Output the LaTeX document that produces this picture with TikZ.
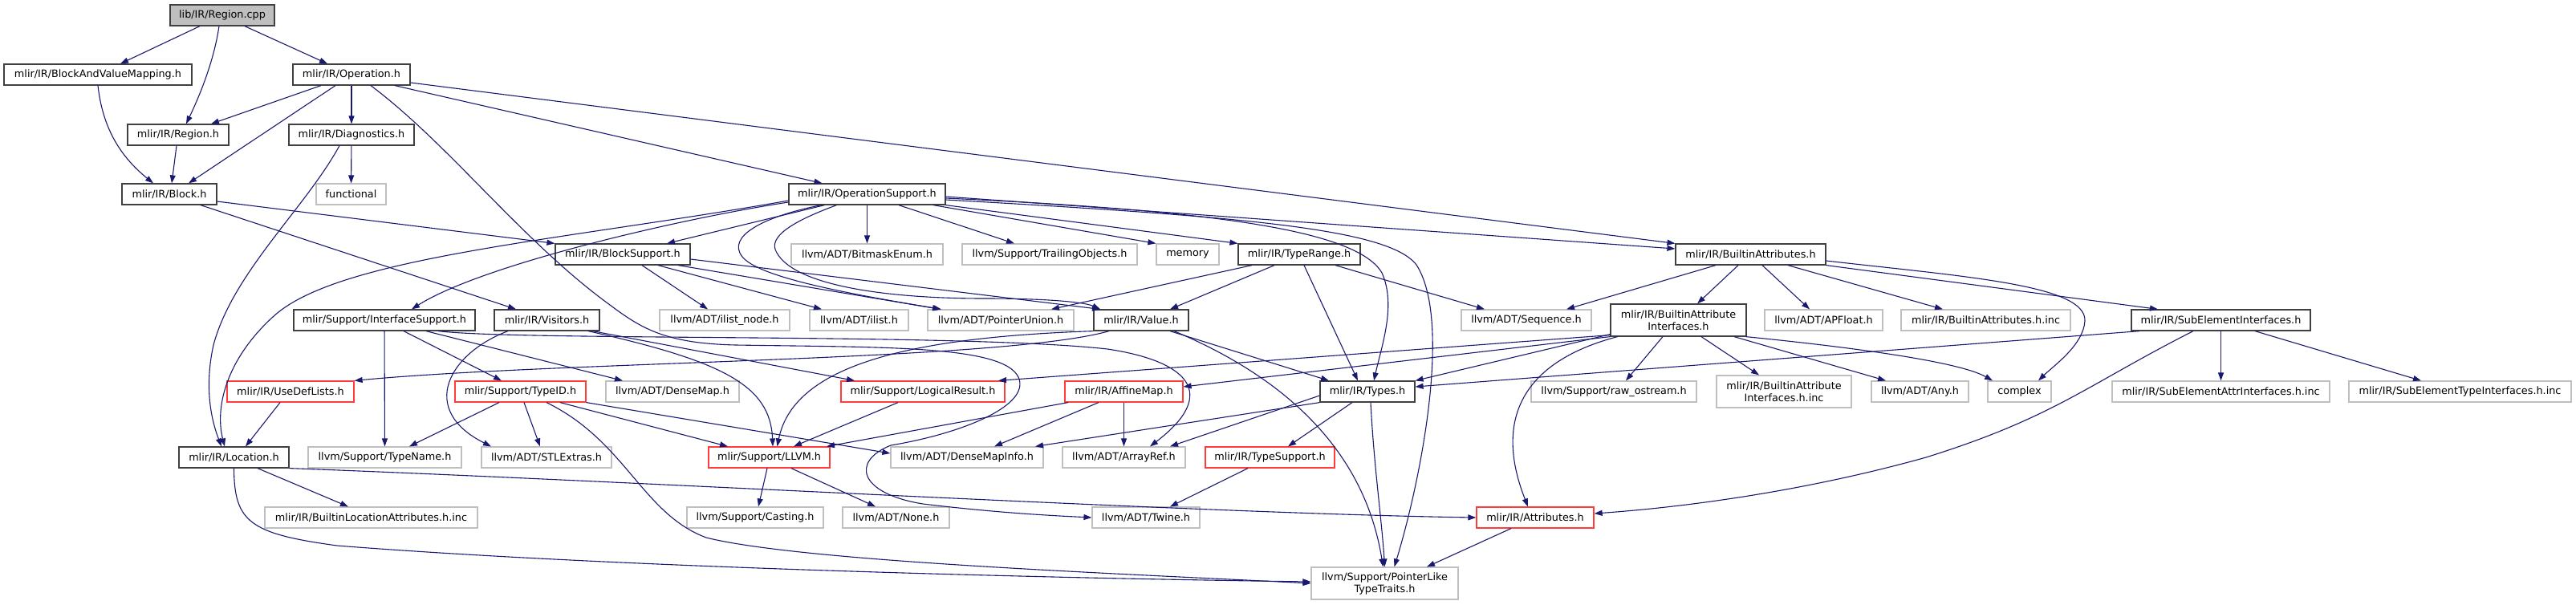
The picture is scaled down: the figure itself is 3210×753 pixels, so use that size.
\documentclass[tikz,border=0pt]{standalone}
\usepackage{fontspec}
\setmainfont{DejaVu Sans}
\usetikzlibrary{arrows.meta}
\definecolor{edgecol}{RGB}{25,25,112}
\definecolor{redb}{RGB}{255,60,60}
\definecolor{extb}{RGB}{191,191,191}
\definecolor{docb}{RGB}{64,64,64}
\definecolor{rootf}{RGB}{191,191,191}
\tikzset{
  base/.style={rectangle, inner xsep=2pt, inner ysep=0pt, minimum height=26pt, line width=1.2pt,
    font=\fontsize{12.8}{15}\selectfont, align=center, fill=white},
  two/.style={minimum height=40pt},
  doc/.style={base, draw=docb},
  ext/.style={base, draw=extb},
  trunc/.style={base, draw=redb},
  root/.style={base, draw=docb, fill=rootf},
  e/.style={draw=edgecol, line width=1.1pt, -{Triangle[length=10pt,width=7pt]}},
}
\begin{document}
\begin{tikzpicture}[x=1pt,y=-1pt]
\useasboundingbox (0,0) rectangle (3210,753);
% row 0
\node[root, minimum width=130] (cpp) at (277,19) {lib/IR/Region.cpp};
% row 1
\node[doc, minimum width=234] (bavm) at (122,93) {mlir/IR/BlockAndValueMapping.h};
\node[doc, minimum width=146] (op) at (438,93) {mlir/IR/Operation.h};
% row 2
\node[doc, minimum width=126] (regionh) at (222,168) {mlir/IR/Region.h};
\node[doc, minimum width=156] (diag) at (438,168) {mlir/IR/Diagnostics.h};
% row 3
\node[doc, minimum width=118] (block) at (211,242) {mlir/IR/Block.h};
\node[ext, minimum width=87] (functional) at (437.5,242) {functional};
\node[doc, minimum width=195] (opsup) at (1080.5,242) {mlir/IR/OperationSupport.h};
% row 4
\node[doc, minimum width=168] (blocksup) at (776,317) {mlir/IR/BlockSupport.h};
\node[ext, minimum width=189] (bitmask) at (1080.5,317) {llvm/ADT/BitmaskEnum.h};
\node[ext, minimum width=218] (trailing) at (1308,317) {llvm/Support/TrailingObjects.h};
\node[ext, minimum width=78] (memory) at (1480,317) {memory};
\node[doc, minimum width=152] (typerange) at (1619,317) {mlir/IR/TypeRange.h};
\node[doc, minimum width=187] (battr) at (2181.5,317) {mlir/IR/BuiltinAttributes.h};
% row 5
\node[doc, minimum width=226] (ifsup) at (479,399) {mlir/Support/InterfaceSupport.h};
\node[doc, minimum width=131] (visitors) at (681.5,399) {mlir/IR/Visitors.h};
\node[ext, minimum width=162] (ilistnode) at (903,399) {llvm/ADT/ilist\_node.h};
\node[ext, minimum width=123] (ilist) at (1070.5,399) {llvm/ADT/ilist.h};
\node[ext, minimum width=182] (ptrunion) at (1247,399) {llvm/ADT/PointerUnion.h};
\node[doc, minimum width=118] (value) at (1422,399) {mlir/IR/Value.h};
\node[ext, minimum width=162] (sequence) at (1902,399) {llvm/ADT/Sequence.h};
\node[doc, two, minimum width=169] (bai) at (2091.5,399) {mlir/IR/BuiltinAttribute\\Interfaces.h};
\node[ext, minimum width=147] (apfloat) at (2272.5,399) {llvm/ADT/APFloat.h};
\node[ext, minimum width=211] (battrinc) at (2474.5,399) {mlir/IR/BuiltinAttributes.h.inc};
\node[doc, minimum width=223] (subel) at (2767.5,399) {mlir/IR/SubElementInterfaces.h};
% row 6
\node[trunc, minimum width=158] (usedef) at (362,488) {mlir/IR/UseDefLists.h};
\node[trunc, minimum width=163] (typeid) at (648.5,488) {mlir/Support/TypeID.h};
\node[ext, minimum width=166] (densemap) at (838,488) {llvm/ADT/DenseMap.h};
\node[trunc, minimum width=204] (logical) at (1150,488) {mlir/Support/LogicalResult.h};
\node[trunc, minimum width=147] (affine) at (1400.5,488) {mlir/IR/AffineMap.h};
\node[doc, minimum width=118] (types) at (1704,488) {mlir/IR/Types.h};
\node[ext, minimum width=206] (rawos) at (2011,488) {llvm/Support/raw\_ostream.h};
\node[ext, two, minimum width=168] (baiinc) at (2223,488) {mlir/IR/BuiltinAttribute\\Interfaces.h.inc};
\node[ext, minimum width=121] (any) at (2392.5,488) {llvm/ADT/Any.h};
\node[ext, minimum width=79] (complex) at (2516.5,488) {complex};
\node[ext, minimum width=271] (attrinc) at (2767.5,488) {mlir/IR/SubElementAttrInterfaces.h.inc};
\node[ext, minimum width=277] (typeinc) at (3065.5,488) {mlir/IR/SubElementTypeInterfaces.h.inc};
% row 7
\node[doc, minimum width=137] (location) at (291.5,570) {mlir/IR/Location.h};
\node[ext, minimum width=191] (typename) at (479.5,570) {llvm/Support/TypeName.h};
\node[ext, minimum width=162] (stlextras) at (681,570) {llvm/ADT/STLExtras.h};
\node[trunc, minimum width=151] (llvm) at (958.5,570) {mlir/Support/LLVM.h};
\node[ext, minimum width=190] (dmi) at (1205,570) {llvm/ADT/DenseMapInfo.h};
\node[ext, minimum width=153] (arrayref) at (1400.5,570) {llvm/ADT/ArrayRef.h};
\node[trunc, minimum width=161] (typesup) at (1582.5,570) {mlir/IR/TypeSupport.h};
% row 8
\node[ext, minimum width=265] (locinc) at (462.5,645) {mlir/IR/BuiltinLocationAttributes.h.inc};
\node[ext, minimum width=170] (casting) at (941,645) {llvm/Support/Casting.h};
\node[ext, minimum width=133] (none) at (1116.5,645) {llvm/ADT/None.h};
\node[ext, minimum width=134] (twine) at (1428,645) {llvm/ADT/Twine.h};
\node[trunc, minimum width=146] (attributes) at (1913,645) {mlir/IR/Attributes.h};
% row 9
\node[ext, two, minimum width=183] (ptrlike) at (1725.5,727) {llvm/Support/PointerLike\\TypeTraits.h};

% ---- edges ----
\draw[e] ([xshift=-28]cpp.south) -- ([xshift=28]bavm.north);
\draw[e] ([xshift=-4]cpp.south) .. controls (266,80) and (246,125) .. ([xshift=10]regionh.north);
\draw[e] ([xshift=28]cpp.south) -- ([xshift=-30]op.north);
\draw[e] (bavm.south) .. controls (128,160) and (150,195) .. ([xshift=-20]block.north);
\draw[e] ([xshift=-38]op.south) -- ([xshift=41]regionh.north);
\draw[e] ([xshift=-20]op.south) -- ([xshift=24]block.north);
\draw[e] (op) -- (diag);
\draw[e] ([xshift=54]op.south) -- ([xshift=-56]opsup.north);
\draw[e] ([yshift=-10]op.east) -- (battr.north west);
\draw[e] ([xshift=24]op.south) .. controls (560,180) and (650,300) .. (760,380) .. controls (800,410) and (830,428) .. (917,430) .. controls (1100,433) and (1250,430) .. (1269,470) .. controls (1285,505) and (1200,540) .. (1110,555) .. controls (1060,575) and (1070,615) .. (1150,628) .. controls (1250,640) and (1320,643) .. (twine.west);
\draw[e] ([xshift=-2]regionh.south) -- ([xshift=3]block.north);
\draw[e] (diag) -- (functional);
\draw[e] ([xshift=-15]diag.south) .. controls (380,260) and (290,340) .. (266,430) .. controls (255,480) and (262,520) .. ([xshift=-15.5]location.north);
\draw[e] ([yshift=-9]block.east) -- (blocksup.north west);
\draw[e] ([xshift=39]block.south) -- ([xshift=-38.5]visitors.north);
\draw[e] ([xshift=-53]opsup.south) -- ([xshift=55]blocksup.north);
\draw[e] ([yshift=-8]opsup.west) .. controls (700,300) and (420,320) .. (340,395) .. controls (280,450) and (268,510) .. ([xshift=-11.5]location.north);
\draw[e] ([yshift=-10]opsup.west) .. controls (850,272) and (600,330) .. ([xshift=34]ifsup.north);
\draw[e] (opsup) -- (bitmask);
\draw[e] ([xshift=39.5]opsup.south) -- ([xshift=-44]trailing.north);
\draw[e] ([xshift=82.5]opsup.south) -- (memory.north west);
\draw[e] (opsup.south east) -- (typerange.north west);
\draw[e] ([yshift=-3]opsup.east) -- ([yshift=7]battr.west);
\draw[e] ([yshift=-5]opsup.east) .. controls (1500,262) and (1690,285) .. (1722,340) .. controls (1740,380) and (1722,430) .. ([xshift=8]types.north);
\draw[e] ([yshift=-7]opsup.east) .. controls (1550,270) and (1730,285) .. (1765,330) .. controls (1810,400) and (1770,600) .. ([xshift=12]ptrlike.north);
\draw[e] ([xshift=-57]opsup.south) .. controls (950,270) and (905,295) .. (925,320) .. controls (945,345) and (1050,365) .. ([xshift=-74]ptrunion.north);
\draw[e] ([xshift=-38]opsup.south) .. controls (990,275) and (955,295) .. (968,315) .. controls (990,355) and (1100,372) .. (1227,372) .. controls (1300,372) and (1350,376) .. ([xshift=-51]value.north);
\draw[e] ([xshift=24]blocksup.south) -- ([xshift=-21]ilistnode.north);
\draw[e] ([xshift=44]blocksup.south) -- ([xshift=-46.5]ilist.north);
\draw[e] ([xshift=69]blocksup.south) -- ([xshift=-75]ptrunion.north);
\draw[e] ([yshift=-6]blocksup.east) -- ([xshift=-51]value.north);
\draw[e] ([xshift=-59]typerange.south) -- ([xshift=63]ptrunion.north);
\draw[e] ([xshift=-31]typerange.south) -- ([xshift=36]value.north);
\draw[e] ([xshift=45]typerange.south) -- ([xshift=-52]sequence.north);
\draw[e] ([xshift=6]typerange.south) -- ([xshift=-12]types.north);
\draw[e] ([xshift=-43.5]battr.south) -- ([xshift=50]sequence.north);
\draw[e] ([xshift=-15.5]battr.south) -- ([xshift=23.5]bai.north);
\draw[e] ([xshift=14.5]battr.south) -- ([xshift=-17.5]apfloat.north);
\draw[e] ([xshift=46.5]battr.south) -- ([xshift=-53.5]battrinc.north);
\draw[e] ([yshift=-8]battr.east) .. controls (2450,345) and (2600,355) .. (2598,400) .. controls (2596,430) and (2560,455) .. ([xshift=23.5]complex.north);
\draw[e] (battr.south east) -- ([xshift=-78.5]subel.north);
\draw[e] (ifsup) -- (typename);
\draw[e] ([xshift=24]ifsup.south) -- ([xshift=-23.5]typeid.north);
\draw[e] ([xshift=52]ifsup.south) -- ([xshift=-62]densemap.north);
\draw[e] ([xshift=67]ifsup.south) .. controls (650,425) and (1200,415) .. (1380,435) .. controls (1480,450) and (1520,490) .. ([xshift=32.5]arrayref.north);
\draw[e] ([xshift=-48.5]visitors.south) .. controls (560,440) and (520,510) .. ([xshift=-69]stlextras.north);
\draw[e] ([xshift=51.5]visitors.south) .. controls (900,450) and (960,480) .. ([xshift=4.5]llvm.north);
\draw[e] ([xshift=57]visitors.south) -- ([xshift=-85]logical.north);
\draw[e] ([xshift=-40]value.south) .. controls (1250,450) and (700,450) .. (usedef.north east);
\draw[e] (value.south west) .. controls (1150,420) and (990,450) .. ([xshift=10]llvm.north);
\draw[e] ([xshift=36]value.south) -- ([xshift=-48]types.north);
\draw[e] ([xshift=41]value.south) .. controls (1600,470) and (1700,560) .. ([xshift=-2]ptrlike.north);
\draw[e] ([yshift=2]bai.south west) -- ([xshift=94]logical.north);
\draw[e] (bai.south west) -- ([yshift=6]affine.east);
\draw[e] ([yshift=3]bai.south west) -- (types.north east);
\draw[e] ([xshift=-19.5]bai.south) -- ([xshift=15]rawos.north);
\draw[e] ([xshift=28.5]bai.south) -- ([xshift=-31]baiinc.north);
\draw[e] ([xshift=69.5]bai.south) -- ([xshift=-42.5]any.north);
\draw[e] ([xshift=84]bai.south) .. controls (2300,432) and (2440,450) .. ([xshift=-33.5]complex.north);
\draw[e] ([xshift=-76]bai.south) .. controls (1900,450) and (1860,520) .. ([xshift=-9]attributes.north);
\draw[e] ([xshift=-101.5]subel.south) -- ([yshift=6]types.east);
\draw[e] ([xshift=-34.5]subel.south) .. controls (2600,480) and (2560,520) .. (2400,570) .. controls (2250,612) and (2100,632) .. ([yshift=5]attributes.east);
\draw[e] (subel) -- (attrinc);
\draw[e] ([xshift=42.5]subel.south) -- ([xshift=-48.5]typeinc.north);
\draw[e] ([xshift=-13]usedef.south) -- ([xshift=14.5]location.north);
\draw[e] ([xshift=-26.5]typeid.south) -- ([xshift=30.5]typename.north);
\draw[e] ([xshift=4.5]typeid.south) -- ([xshift=-8]stlextras.north);
\draw[e] ([xshift=49.5]typeid.south) -- ([xshift=-51.5]llvm.north);
\draw[e] (typeid.south east) -- ([yshift=5]dmi.west);
\draw[e] ([xshift=32.5]typeid.south) .. controls (780,550) and (800,640) .. (880,670) .. controls (1000,700) and (1400,715) .. (ptrlike.west);
\draw[e] ([xshift=-31]logical.south) -- ([xshift=30.5]llvm.north);
\draw[e] ([xshift=-69.5]affine.south) -- ([xshift=71.5]llvm.north);
\draw[e] ([xshift=-31.5]affine.south) -- ([xshift=34]dmi.north);
\draw[e] (affine) -- (arrayref);
\draw[e] ([xshift=-19]types.south) -- ([xshift=22.5]typesup.north);
\draw[e] (types.south west) -- ([xshift=85]dmi.north);
\draw[e] ([yshift=-5]types.west) -- ([xshift=57.5]arrayref.north);
\draw[e] ([xshift=4]types.south) .. controls (1712,580) and (1722,650) .. (ptrlike.north);
\draw[e] (location.south east) .. controls (800,600) and (1500,640) .. (attributes.west);
\draw[e] ([xshift=29.5]location.south) -- ([xshift=-28.5]locinc.north);
\draw[e] (location.south) .. controls (292,650) and (310,665) .. (420,680) .. controls (800,710) and (1400,722) .. ([yshift=2]ptrlike.west);
\draw[e] ([xshift=-2.5]llvm.south) -- ([xshift=4]casting.north);
\draw[e] ([xshift=27.5]llvm.south) -- ([xshift=-25.5]none.north);
\draw[e] ([xshift=-27.5]typesup.south) -- ([xshift=30]twine.north);
\draw[e] ([xshift=-30]attributes.south) -- ([xshift=52.5]ptrlike.north);
\end{tikzpicture}
\end{document}
